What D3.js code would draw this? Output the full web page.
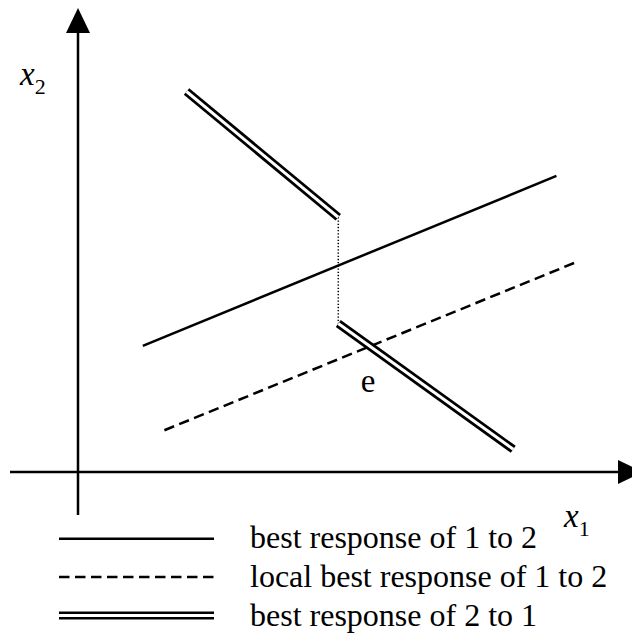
<!DOCTYPE html>
<html>
<head>
<meta charset="utf-8">
<script src="https://cdn.jsdelivr.net/npm/d3@7"></script>
<style>
  body { margin: 0; background: #fff; }
  svg text { font-family: "Liberation Serif", "Times New Roman", "DejaVu Serif", serif; fill: #000; }
</style>
</head>
<body>
<svg id="chart" width="632" height="638"></svg>
<script>
// reaction curves, in axis units (x1, x2) on a 0..100 grid
var bestResp12 = [[12, 27.2], [88.6, 63.8]];
var localBestResp12 = [[16, 9], [92.4, 45.3]];
var bestResp21Upper = [[20.1, 82], [48.2, 54.9]];
var bestResp21Lower = [[48.2, 32], [80.6, 4.9]];
var jumpLine = [[48.2, 54.9], [48.2, 32]];
var eqLabel = {x: 53.7, y: 17.2, text: "e"};
var legendLabels = ["best response of 1 to 2", "local best response of 1 to 2", "best response of 2 to 1"];
var legendStyles = ["solid", "dashed", "double"];

var svg = d3.select("#chart");

var xScale = d3.scaleLinear().domain([0, 100]).range([78, 618]);
var yScale = d3.scaleLinear().domain([0, 100]).range([472, 8]);

var line = d3.line()
  .x(d => xScale(d[0]))
  .y(d => yScale(d[1]));

//!axes with arrow heads
svg.append("line")
  .attr("x1", 10).attr("x2", 620)
  .attr("y1", yScale(0)).attr("y2", yScale(0))
  .attr("stroke", "#000").attr("stroke-width", 2.5);
svg.append("path")
  .attr("d", "M618," + (yScale(0) - 12) + "L643," + yScale(0) + "L618," + (yScale(0) + 12) + "Z")
  .attr("fill", "#000");

svg.append("line")
  .attr("x1", xScale(0)).attr("x2", xScale(0))
  .attr("y1", 515).attr("y2", 30)
  .attr("stroke", "#000").attr("stroke-width", 2.5);
svg.append("path")
  .attr("d", "M" + (xScale(0) - 12) + ",33L" + xScale(0) + ",8L" + (xScale(0) + 12) + ",33Z")
  .attr("fill", "#000");

//!axis labels
var x2 = svg.append("text").attr("x", 20).attr("y", 85);
x2.append("tspan").attr("font-style", "italic").attr("font-size", 33).text("x");
x2.append("tspan").attr("font-size", 22).attr("dy", 9).text("2");

var x1 = svg.append("text").attr("x", 564).attr("y", 527);
x1.append("tspan").attr("font-style", "italic").attr("font-size", 33).text("x");
x1.append("tspan").attr("font-size", 22).attr("dy", 9).text("1");

//!curves
function drawDouble(g, pts) {
  g.append("path").attr("d", line(pts))
    .attr("stroke", "#000").attr("stroke-width", 8.5).attr("fill", "none");
  g.append("path").attr("d", line(pts))
    .attr("stroke", "#fff").attr("stroke-width", 3).attr("fill", "none");
}

svg.append("path").attr("d", line(jumpLine))
  .attr("stroke", "#000").attr("stroke-width", 1.5)
  .attr("stroke-dasharray", "1.3,1.9").attr("fill", "none");

svg.append("path").attr("d", line(bestResp12))
  .attr("stroke", "#000").attr("stroke-width", 2.5).attr("fill", "none");

svg.append("path").attr("d", line(localBestResp12))
  .attr("stroke", "#000").attr("stroke-width", 2.5)
  .attr("stroke-dasharray", "10.5,5.5").attr("fill", "none");

drawDouble(svg.append("g"), bestResp21Upper);
drawDouble(svg.append("g"), bestResp21Lower);

svg.append("text")
  .attr("x", xScale(eqLabel.x)).attr("y", yScale(eqLabel.y))
  .attr("text-anchor", "middle").attr("font-size", 33)
  .text(eqLabel.text);

//!legend
var legendY = d3.scalePoint().domain(legendLabels).range([538.7, 615.5]);

legendLabels.forEach((label, i) => {
  var y = legendY(label);
  var style = legendStyles[i];
  if (style === "double") {
    svg.append("line").attr("x1", 59).attr("x2", 214).attr("y1", y).attr("y2", y)
      .attr("stroke", "#000").attr("stroke-width", 8);
    svg.append("line").attr("x1", 58).attr("x2", 215).attr("y1", y).attr("y2", y)
      .attr("stroke", "#fff").attr("stroke-width", 3);
  } else {
    svg.append("line").attr("x1", 59).attr("x2", 214).attr("y1", y).attr("y2", y)
      .attr("stroke", "#000").attr("stroke-width", 2.5)
      .attr("stroke-dasharray", style === "dashed" ? "10.5,5.5" : null);
  }
  svg.append("text")
    .attr("x", 250).attr("y", y + 9.5 + (i === 2 ? 1 : 0))
    .attr("font-size", 32)
    .text(label);
});
</script>
</body>
</html>
